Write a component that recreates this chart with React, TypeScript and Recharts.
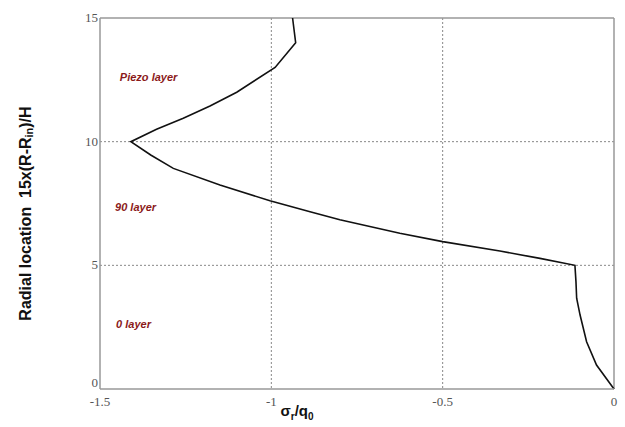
import React from "react";
import {
  LineChart,
  Line,
  XAxis,
  YAxis,
  CartesianGrid,
  ReferenceLine,
  ReferenceDot,
  Label,
} from "recharts";

// Radial location 15x(R-Rin)/H
const locations = [15, 14, 13, 12, 11.44, 10.95, 10.5, 10, 9.46, 8.92, 8.25, 7.61, 7.17, 6.84, 6.3, 5.96, 5.58, 5.28, 5.0, 4.34, 3.67, 2.99, 1.91, 0.97, 0];
// sigma_r / q0
const stress = [-0.938, -0.929, -0.989, -1.101, -1.179, -1.257, -1.335, -1.41, -1.352, -1.286, -1.15, -1.004, -0.887, -0.8, -0.625, -0.5, -0.333, -0.216, -0.114, -0.111, -0.109, -0.099, -0.08, -0.051, 0];

const xTicks = [-1.5, -1, -0.5, 0];
const yTicks = [0, 5, 10, 15];
const xTickLabels = ["-1.5", "-1", "-0.5", "0"];
const yTickLabels = ["0", "5", "10", "15"];

const layerNames = ["Piezo layer", "90 layer", "0 layer"];
const layerX = [-1.442, -1.456, -1.453];
const layerY = [12.62, 7.36, 2.63];

const data = locations.map((y, i) => ({ x: stress[i], y }));

const serif = "Times New Roman, Liberation Serif, Times, serif";
const sans = "Liberation Sans, Arial, sans-serif";

const XTick = (props: any) => {
  const { x, y, payload } = props;
  const i = xTicks.indexOf(payload.value);
  return (
    <text x={x} y={y + 15} textAnchor="middle" fontFamily={serif} fontSize={13} fill="#555">
      {i >= 0 ? xTickLabels[i] : payload.value}
    </text>
  );
};

const YTick = (props: any) => {
  const { x, y, payload } = props;
  const i = yTicks.indexOf(payload.value);
  const dy = payload.value === 0 ? -6 : 0;
  return (
    <text x={x} y={y + 4 + dy} textAnchor="end" fontFamily={serif} fontSize={13} fill="#555">
      {i >= 0 ? yTickLabels[i] : payload.value}
    </text>
  );
};

const XTitle = (props: any) => {
  const { viewBox } = props;
  const cx = viewBox.x + viewBox.width / 2 - 60;
  const y = viewBox.y + 27;
  return (
    <text x={cx} y={y} textAnchor="middle" fontFamily={sans} fontWeight="bold" fontSize={15} fill="#111">
      <tspan>σ</tspan>
      <tspan fontSize={10} dy={4}>r</tspan>
      <tspan dy={-4}>/q</tspan>
      <tspan fontSize={10} dy={4}>0</tspan>
    </text>
  );
};

const YTitle = (props: any) => {
  const { viewBox } = props;
  const cx = 25;
  const cy = viewBox.y + viewBox.height / 2 + 10;
  return (
    <text
      x={cx}
      y={cy}
      transform={`rotate(-90 ${cx} ${cy})`}
      textAnchor="middle"
      dominantBaseline="central"
      fontFamily={sans}
      fontWeight="bold"
      fontSize={16}
      fill="#111"
    >
      <tspan>{"Radial location\u00A0\u00A015x(R-R"}</tspan>
      <tspan fontSize={11} dy={4}>in</tspan>
      <tspan dy={-4}>)/H</tspan>
    </text>
  );
};

export default function App() {
  return (
    <div style={{ position: "absolute", left: 0, top: 0, background: "#fff" }}>
      <LineChart width={625} height={427} data={data} margin={{ top: 18, right: 11, bottom: 0, left: 40 }}>
        <CartesianGrid stroke="#888" strokeDasharray="2 2" horizontalValues={[5, 10]} verticalValues={[-1, -0.5]} />
        <XAxis
          dataKey="x"
          type="number"
          domain={[-1.5, 0]}
          ticks={xTicks}
          tickLine={false}
          tickSize={0}
          tick={<XTick />}
          height={38}
          axisLine={{ stroke: "#999", strokeWidth: 1.5 }}
          interval={0}
        >
          <Label content={<XTitle />} />
        </XAxis>
        <YAxis
          dataKey="y"
          type="number"
          domain={[0, 15]}
          ticks={yTicks}
          tickLine={false}
          tickSize={0}
          tick={<YTick />}
          width={60}
          axisLine={{ stroke: "#999", strokeWidth: 1.5 }}
          interval={0}
        >
          <Label content={<YTitle />} />
        </YAxis>
        <ReferenceLine y={15} stroke="#999" strokeWidth={1.5} />
        <ReferenceLine x={0} stroke="#999" strokeWidth={1.5} />
        {layerNames.map((name, i) => (
          <ReferenceDot
            key={name}
            x={layerX[i]}
            y={layerY[i]}
            r={0}
            fill="none"
            stroke="none"
            label={{
              value: name,
              position: "right",
              offset: 0,
              fill: "#8b1a1a",
              fontSize: 11,
              fontWeight: "bold",
              fontStyle: "italic",
              fontFamily: sans,
            }}
          />
        ))}
        <Line dataKey="y" type="linear" stroke="#111" strokeWidth={1.6} dot={false} isAnimationActive={false} />
      </LineChart>
    </div>
  );
}
